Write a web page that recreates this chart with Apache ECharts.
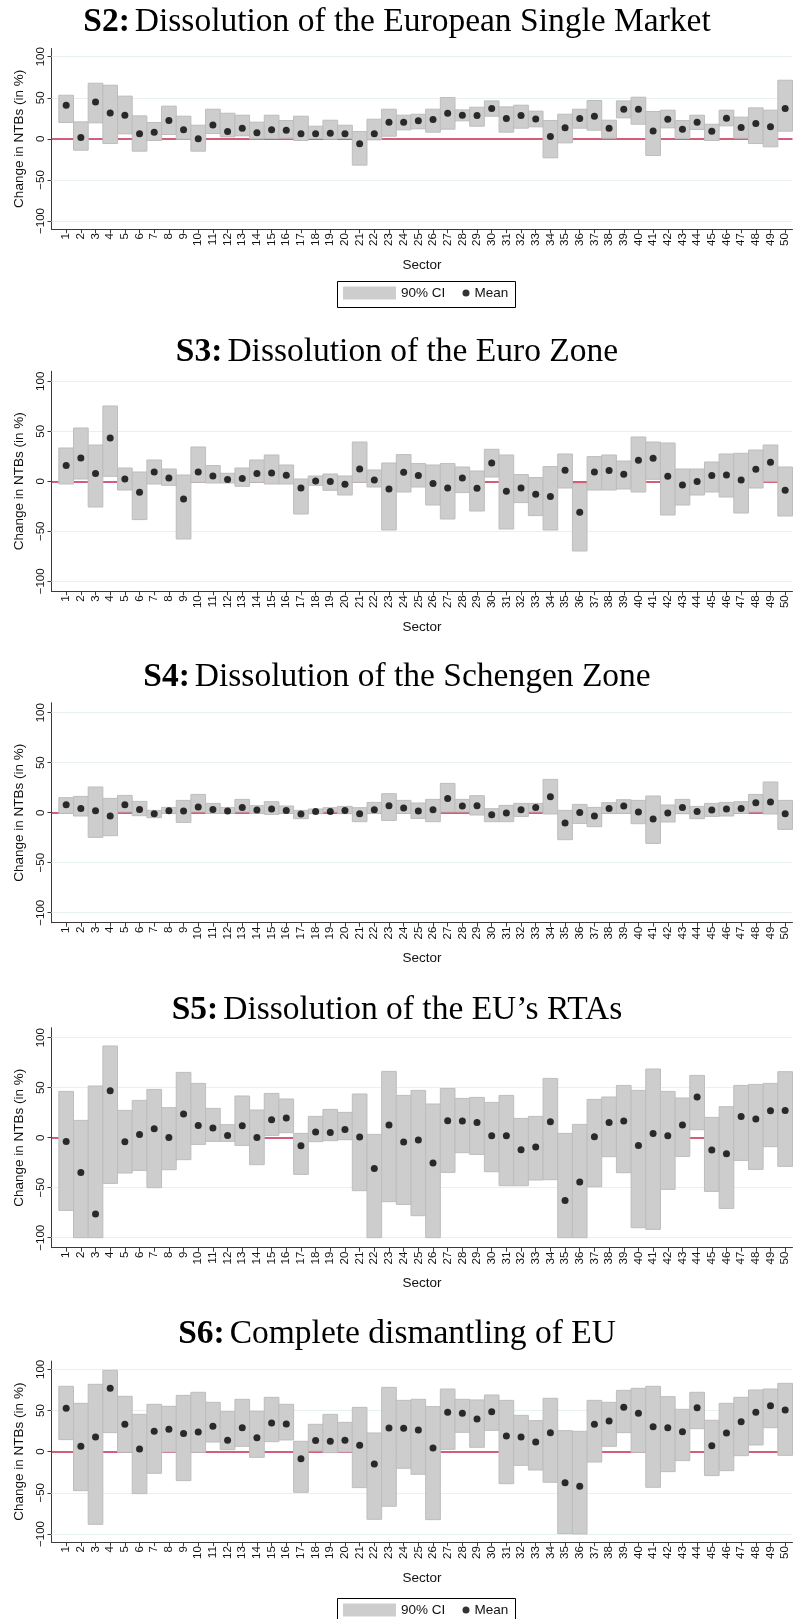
<!DOCTYPE html>
<html>
<head>
<meta charset="utf-8">
<script src="https://cdn.jsdelivr.net/npm/echarts@6/dist/echarts.min.js"></script>
<style>
html,body{margin:0;padding:0;background:#ffffff;}
#chart{width:794px;height:1619px;}
</style>
</head>
<body>
<div id="chart"></div>
<script>
// ---------------- DATA ----------------
const sectors = [1,2,3,4,5,6,7,8,9,10,11,12,13,14,15,16,17,18,19,20,21,22,23,24,25,26,27,28,29,30,31,32,33,34,35,36,37,38,39,40,41,42,43,44,45,46,47,48,49,50];
const yTickValues = [-100,-50,0,50,100];
const gridLineValues = [-100,-50,50,100];
const zeroLineValue = 0;

const titleBold = ['S2:','S3:','S4:','S5:','S6:'];
const titleText = [
  'Dissolution of the European Single Market',
  'Dissolution of the Euro Zone',
  'Dissolution of the Schengen Zone',
  'Dissolution of the EU\u2019s RTAs',
  'Complete dismantling of EU'
];
const yAxisTitle = 'Change in NTBs (in %)';
const xAxisTitle = 'Sector';
const ciName = '90% CI';
const meanName = 'Mean';

const s2Mean = [41.0,1.6,45.0,31.6,28.8,6.1,8.1,22.3,11.0,0.0,17.0,8.9,13.0,7.3,11.0,10.5,6.1,6.1,6.9,6.1,-6.1,6.1,20.3,20.3,21.9,23.5,31.2,28.8,28.4,36.9,24.7,28.4,24.3,2.8,13.4,24.7,27.6,13.0,36.1,36.1,9.7,23.9,11.8,20.3,9.3,25.2,13.8,18.7,14.6,36.9];
const s2Low = [19.9,-13.8,19.5,-5.7,6.1,-15.0,-2.0,5.3,-0.4,-15.0,6.5,2.4,3.7,0.0,0.4,0.8,-2.0,0.4,-0.4,0.4,-32.0,-1.2,3.2,11.0,12.2,8.1,11.8,21.9,15.4,27.6,8.1,13.0,14.6,-23.1,-4.9,13.0,10.5,0.8,25.6,17.8,-20.3,13.4,0.4,11.4,-2.0,15.8,0.8,-5.7,-9.7,9.3];
const s2High = [53.1,20.7,67.7,65.3,52.0,28.0,19.9,39.8,27.6,16.6,36.1,31.2,28.8,20.3,28.8,22.3,27.6,15.4,22.7,16.6,8.9,23.9,36.1,28.8,30.0,36.1,50.3,35.3,38.5,46.2,38.9,41.0,33.7,22.3,30.0,36.1,46.7,22.7,46.2,50.7,33.3,34.9,22.3,28.8,17.8,34.9,26.4,37.7,34.9,71.4];

const s3Mean = [15.7,23.3,7.7,43.3,2.3,-11.0,9.3,3.3,-17.7,9.3,5.3,1.7,2.7,7.7,8.3,6.0,-6.7,0.3,-0.3,-3.0,12.3,1.3,-7.7,9.0,5.7,-2.3,-6.7,3.3,-7.0,18.3,-10.0,-6.7,-13.0,-15.3,11.0,-31.0,9.3,10.7,7.0,21.0,23.0,5.0,-3.7,-0.3,5.7,6.3,1.3,12.0,19.0,-9.0];
const s3Low = [-2.7,2.3,-25.7,5.0,-8.7,-38.3,-2.7,-4.0,-57.7,-1.0,-1.7,-1.7,-5.0,-1.0,-2.7,-2.7,-32.7,-4.0,-9.0,-13.7,-1.0,-5.7,-48.7,-10.7,-5.7,-23.7,-37.7,-11.3,-29.7,4.3,-47.7,-21.3,-34.3,-48.7,-6.7,-69.7,-8.7,-8.7,-7.7,-10.7,2.0,-33.7,-23.7,-13.7,-10.7,-15.7,-31.7,-6.7,0.0,-34.7];
const s3High = [33.3,53.3,36.3,75.3,13.3,9.3,21.3,12.3,6.3,34.3,15.7,8.0,13.3,21.3,26.3,16.3,2.3,5.3,7.3,5.3,39.3,11.3,18.3,26.7,17.7,16.3,17.7,14.3,10.3,32.0,26.3,6.7,3.7,14.7,27.3,-2.3,24.7,26.3,20.3,44.3,39.3,38.3,12.3,12.3,19.3,27.3,28.0,31.3,36.3,14.3];

const s4Mean = [8.0,4.3,2.0,-3.3,8.0,3.3,-1.0,2.0,1.7,5.7,3.3,1.7,5.3,2.7,3.7,2.3,-1.3,1.3,1.3,2.3,-1.0,3.0,7.0,4.7,1.7,3.0,14.3,6.7,7.0,-2.0,-0.3,3.0,5.3,16.0,-10.3,0.3,-3.3,4.3,6.7,0.7,-6.3,-0.3,5.3,1.3,2.7,3.7,4.3,10.0,10.7,-1.0];
const s4Low = [-0.7,-3.3,-24.7,-23.0,0.8,-3.0,-5.0,-0.7,-9.7,0.8,-0.7,-0.7,0.8,-0.7,-1.7,-0.7,-6.0,-1.0,0.8,-1.0,-9.0,-0.7,-7.7,-0.7,-5.7,-9.0,0.8,0.8,-2.3,-9.0,-9.0,-3.7,0.8,-1.3,-27.0,-10.7,-14.0,-0.7,-0.7,-11.0,-30.7,-9.3,-1.0,-6.0,-3.7,-3.3,-0.7,0.8,-1.3,-16.7];
const s4High = [15.0,16.3,25.7,14.3,17.3,11.3,2.3,5.3,12.3,18.3,9.3,5.3,13.3,7.0,11.0,6.7,2.3,3.7,5.0,6.3,5.0,10.3,19.0,12.3,9.7,13.3,29.3,13.3,17.0,4.0,7.3,9.3,9.3,33.3,2.3,8.3,5.3,10.0,13.0,12.3,16.7,7.7,13.3,6.3,9.3,10.3,11.0,18.3,30.7,12.3];

const s5Mean = [-3.7,-34.7,-76.3,47.0,-4.0,3.3,9.0,0.3,23.7,12.3,9.7,2.3,12.0,0.3,18.0,19.7,-8.0,5.7,5.3,8.3,0.7,-30.7,12.7,-4.3,-2.3,-25.3,17.0,16.7,15.3,2.0,2.0,-12.0,-9.3,16.0,-62.7,-44.3,1.0,15.3,16.7,-7.7,4.3,2.0,12.7,40.7,-12.3,-16.0,21.3,18.7,27.0,27.3];
const s5Low = [-72.7,-100,-100,-45.7,-35.3,-32.7,-50.0,-32.0,-22.0,-6.7,-3.7,-3.7,-7.7,-27.0,2.3,5.0,-36.7,-4.0,-3.0,-2.0,-53.0,-100,-64.0,-66.7,-78.0,-100,-34.7,-15.0,-16.7,-34.0,-48.0,-48.0,-42.3,-42.0,-100,-100,-49.0,-19.0,-35.0,-90.0,-91.7,-51.7,-18.7,8.0,-53.7,-70.7,-22.7,-31.7,-9.0,-28.7];
const s5High = [46.3,17.3,51.7,91.7,27.3,37.3,48.3,30.0,65.3,54.3,29.3,13.0,41.7,27.7,44.3,38.7,4.3,21.3,28.3,25.3,43.7,3.3,66.3,42.3,47.3,33.7,49.3,39.3,40.3,35.3,42.3,19.3,21.3,59.3,4.3,13.3,38.3,40.7,52.3,47.3,68.7,46.3,39.7,62.3,20.3,31.0,52.3,53.3,54.3,66.0];

const s6Mean = [52.6,6.5,17.8,76.9,33.2,3.2,24.7,27.1,21.9,23.9,30.8,13.8,29.1,17.0,34.8,33.6,-8.5,13.4,12.6,13.8,7.7,-15.0,28.7,28.3,26.3,4.5,47.8,46.6,39.7,48.6,19.0,17.8,11.7,23.1,-37.7,-42.1,33.2,37.2,53.8,46.6,30.4,29.1,24.3,53.4,7.3,22.7,36.4,47.8,55.9,50.6];
const s6Low = [14.6,-47.4,-88.3,23.1,-0.8,-51.0,-26.3,-0.4,-35.2,-0.8,11.7,2.4,6.5,-6.9,12.1,14.2,-49.4,0.8,-1.2,-0.4,-43.7,-82.2,-66.4,-20.2,-27.5,-82.6,2.8,23.5,5.3,25.9,-38.9,-16.6,-22.3,-37.2,-99.6,-100,-12.6,6.5,23.1,-0.8,-43.3,-24.3,-10.9,27.9,-29.1,-23.1,-4.9,8.1,29.1,-4.5];
const s6High = [79.4,58.7,81.8,98.8,67.2,45.3,57.5,55.1,68.4,72.1,59.9,48.6,63.6,49.0,66.0,57.5,12.6,33.2,45.3,35.6,53.8,22.7,78.1,62.3,63.6,54.7,76.1,63.6,62.8,68.8,62.3,44.1,37.7,64.8,25.5,24.7,62.3,59.9,74.5,76.9,79.4,66.8,51.4,72.1,38.1,58.7,66.0,74.9,76.1,83.0];

// ---------------- LAYOUT / STYLE ----------------
const panels = [
  {mean:s2Mean, low:s2Low, high:s2High},
  {mean:s3Mean, low:s3Low, high:s3High},
  {mean:s4Mean, low:s4Low, high:s4High},
  {mean:s5Mean, low:s5Low, high:s5High},
  {mean:s6Mean, low:s6Low, high:s6High}
];
const gridTops = [48.5, 371.3, 702.7, 1027.7, 1361.1];
const gridHeights = [180.7, 220, 220, 220, 181.1];
const titleTops = [0.5, 330.5, 655.5, 988, 1312.5];
const legendTops = [281, 1598];

const SANS = '"Liberation Sans", Arial, Helvetica, sans-serif';
const SERIF = '"Liberation Serif", "Times New Roman", serif';
const CI_FILL = '#cdcdcd';
const CI_EDGE = '#bdbdbd';
const AXIS_COLOR = '#3a3a3a';
const GRID_COLOR = '#e8f0f2';
const ZERO_COLOR = '#c3294d';

const chart = echarts.init(document.getElementById('chart'), null, {renderer:'canvas'});

const grids = [], xAxes = [], yAxes = [], series = [], titles = [];

panels.forEach((p, i) => {
  grids.push({left: 51.5, right: 1.5, top: gridTops[i], height: gridHeights[i], containLabel: false});
  xAxes.push({
    type: 'value', gridIndex: i, min: 0, max: 50.5, interval: 1,
    name: xAxisTitle, nameLocation: 'middle', nameGap: 29,
    nameTextStyle: {fontFamily: SANS, fontSize: 13.5, color: '#111'},
    axisLine: {show: true, onZero: false, lineStyle: {color: AXIS_COLOR, width: 1}},
    axisTick: {show: true, length: 4, customValues: sectors, lineStyle: {color: AXIS_COLOR}},
    axisLabel: {show: true, rotate: 90, margin: 4, customValues: sectors,
      fontFamily: SANS, fontSize: 11.5, color: '#111',
      formatter: v => (v === 0 ? '' : String(v))},
    splitLine: {show: false}
  });
  yAxes.push({
    type: 'value', gridIndex: i, min: -110, max: 110,
    name: yAxisTitle, nameLocation: 'middle', nameGap: 25, nameRotate: 90,
    nameTextStyle: {fontFamily: SANS, fontSize: 13.5, color: '#111'},
    axisLine: {show: true, lineStyle: {color: AXIS_COLOR, width: 1}},
    axisTick: {show: true, length: 4, customValues: yTickValues, lineStyle: {color: AXIS_COLOR}},
    axisLabel: {show: true, rotate: 90, margin: 5, customValues: yTickValues,
      fontFamily: SANS, fontSize: 11.5, color: '#111',
      formatter: v => (v < 0 ? '\u2212' + Math.abs(v) : String(v))},
    splitLine: {show: false}
  });
  titles.push({
    text: '{b|' + titleBold[i] + '} {n|' + titleText[i] + '}',
    left: 'center', top: titleTops[i],
    textStyle: {
      rich: {
        b: {fontFamily: SERIF, fontSize: 33.5, fontWeight: 'bold', color: '#000'},
        n: {fontFamily: SERIF, fontSize: 33.5, fontWeight: 'normal', color: '#000'}
      }
    }
  });
  // gridlines + zero line (below the CI boxes)
  series.push({
    type: 'line', name: 'guides' + i, xAxisIndex: i, yAxisIndex: i, data: [],
    silent: true, z: 1,
    markLine: {
      z: 1, silent: true, symbol: ['none','none'], label: {show: false},
      animation: false,
      data: gridLineValues.map(v => ({yAxis: v, lineStyle: {color: GRID_COLOR, width: 1, type: 'solid'}}))
        .concat([{yAxis: zeroLineValue, lineStyle: {color: ZERO_COLOR, width: 1.6, type: 'solid'}}])
    }
  });
  // CI rectangles
  series.push({
    type: 'custom', name: ciName, xAxisIndex: i, yAxisIndex: i, z: 3,
    itemStyle: {color: CI_FILL},
    encode: {x: 0, y: [1, 2]},
    data: sectors.map((s, j) => [s, p.low[j], p.high[j]]),
    renderItem: function (params, api) {
      const x = api.value(0);
      const tl = api.coord([x - 0.5, api.value(2)]);
      const br = api.coord([x + 0.5, api.value(1)]);
      return {
        type: 'rect',
        shape: {x: tl[0], y: tl[1], width: br[0] - tl[0], height: br[1] - tl[1]},
        style: {fill: CI_FILL, stroke: CI_EDGE, lineWidth: 1}
      };
    }
  });
  // Means
  series.push({
    type: 'scatter', name: meanName, xAxisIndex: i, yAxisIndex: i, z: 4,
    symbol: 'circle', symbolSize: 7,
    itemStyle: {color: '#000000'},
    data: sectors.map((s, j) => [s, p.mean[j]])
  });
});

const legends = [];
const graphics = [];
legendTops.forEach(t => {
  legends.push({
    data: [{name: ciName, icon: 'rect'}], left: 343, top: t + 5, padding: 0,
    itemWidth: 53, itemHeight: 13, itemGap: 5, selectedMode: false,
    textStyle: {fontFamily: SANS, fontSize: 13.5, color: '#111'}
  });
  legends.push({
    data: [{name: meanName, icon: 'circle'}], left: 462.5, top: t + 5, padding: 0,
    itemWidth: 7, itemHeight: 7, itemGap: 5, selectedMode: false,
    textStyle: {fontFamily: SANS, fontSize: 13.5, color: '#111'}
  });
  graphics.push({
    type: 'rect', left: 337, top: t, z: 0,
    shape: {width: 178, height: 26},
    style: {fill: '#ffffff', stroke: '#000000', lineWidth: 1}
  });
});

chart.setOption({
  animation: false,
  backgroundColor: '#ffffff',
  title: titles,
  grid: grids,
  xAxis: xAxes,
  yAxis: yAxes,
  legend: legends,
  graphic: graphics,
  series: series
});
</script>
</body>
</html>
